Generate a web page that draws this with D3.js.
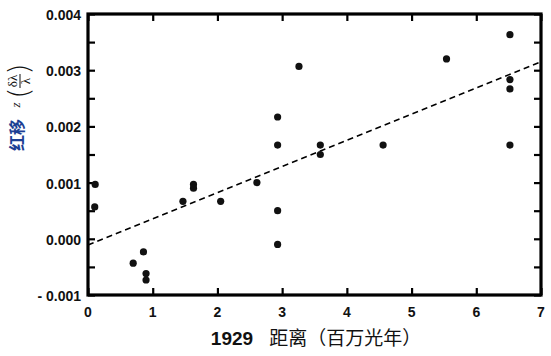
<!DOCTYPE html>
<html>
<head>
<meta charset="utf-8">
<script src="https://cdn.jsdelivr.net/npm/d3@7"></script>
<style>
  html, body { margin: 0; padding: 0; background: #fff; }
  svg { display: block; }
</style>
</head>
<body>
<svg id="chart" width="551" height="356"></svg>
<script>
// Hubble 1929 data: distance (million light years) and redshift z
const distances = [0.104, 0.111, 0.698, 0.857, 0.897, 0.897, 1.467, 1.630, 1.630, 2.050, 2.610, 2.930, 2.930, 2.930, 2.930, 3.260, 3.590, 3.590, 4.560, 5.540, 6.520, 6.520, 6.520, 6.520];
const redshifts = [0.000567, 0.000967, -0.000433, -0.000233, -0.000617, -0.000733, 0.000667, 0.000967, 0.000900, 0.000667, 0.001000, -0.000100, 0.002167, 0.000500, 0.001667, 0.003067, 0.001500, 0.001667, 0.001667, 0.003200, 0.001667, 0.002833, 0.002667, 0.003633];
// fitted trend line endpoints
const fitX = [0, 7];
const fitY = [-0.00011, 0.00315];
const xTicks = [0, 1, 2, 3, 4, 5, 6, 7];
const yTicks = [-0.001, 0, 0.001, 0.002, 0.003, 0.004];
const yMinorTicks = [-0.0005, 0.0005, 0.0015, 0.0025, 0.0035];
const yTickLabels = ["- 0.001", "0.000", "0.001", "0.002", "0.003", "0.004"];

const svg = d3.select("#chart");
const L = 88, R = 541, T = 14, B = 295;
const x = d3.scaleLinear().domain([0, 7]).range([L, R]);
const y = d3.scaleLinear().domain([-0.001, 0.004]).range([B, T]);

// ticks inward on all four sides
const tl = 7;
const allY = yTicks.concat(yMinorTicks);
const styleTicks = g => { g.select(".domain").remove(); g.selectAll("line").attr("stroke", "#000").attr("stroke-width", 2.2); };
svg.append("g").attr("transform", `translate(${L},0)`)
  .call(d3.axisRight(y).tickValues(allY).tickSize(tl).tickFormat("")).call(styleTicks);
svg.append("g").attr("transform", `translate(${R},0)`)
  .call(d3.axisLeft(y).tickValues(allY).tickSize(tl).tickFormat("")).call(styleTicks);
svg.append("g").attr("transform", `translate(0,${B})`)
  .call(d3.axisTop(x).tickValues(xTicks).tickSize(tl).tickFormat("")).call(styleTicks);
svg.append("g").attr("transform", `translate(0,${T})`)
  .call(d3.axisBottom(x).tickValues(xTicks).tickSize(tl).tickFormat("")).call(styleTicks);

// frame
svg.append("rect").attr("x", L).attr("y", T).attr("width", R - L).attr("height", B - T)
  .attr("fill", "none").attr("stroke", "#000").attr("stroke-width", 3.2);

// tick labels
const font = "'Liberation Sans', Arial, sans-serif";
svg.append("g").selectAll("text").data(xTicks).join("text")
  .attr("x", d => x(d)).attr("y", 317)
  .attr("text-anchor", "middle")
  .attr("font-family", font).attr("font-weight", "bold").attr("font-size", 14)
  .attr("fill", "#111").text(d => d);
svg.append("g").selectAll("text").data(yTicks).join("text")
  .attr("x", 81).attr("y", d => y(d) + 6)
  .attr("text-anchor", "end")
  .attr("font-family", font).attr("font-weight", "bold").attr("font-size", 14)
  .attr("fill", "#111").text((d, i) => yTickLabels[i]);

// trend line
svg.append("line")
  .attr("x1", x(fitX[0])).attr("y1", y(fitY[0]))
  .attr("x2", x(fitX[1])).attr("y2", y(fitY[1]))
  .attr("stroke", "#000").attr("stroke-width", 1.5)
  .attr("stroke-dasharray", "6,4");

// points
svg.append("g").selectAll("circle").data(distances).join("circle")
  .attr("cx", d => x(d)).attr("cy", (d, i) => y(redshifts[i]))
  .attr("r", 3.6).attr("fill", "#111");

// x-axis title
const xt = svg.append("text").attr("x", 316).attr("y", 345).attr("text-anchor", "middle")
  .attr("font-size", 19).attr("fill", "#111");
xt.append("tspan").attr("font-family", font).attr("font-weight", "bold").text("1929");
xt.append("tspan").attr("font-family", "'Noto Sans CJK SC', sans-serif").attr("dx", 16).text("距离（百万光年）");

// y-axis title (rotated)
svg.append("text")
  .attr("transform", "translate(16,135) rotate(-90)")
  .attr("text-anchor", "middle").attr("dominant-baseline", "central")
  .attr("font-family", "'Noto Sans CJK SC', sans-serif").attr("font-weight", "bold")
  .attr("font-size", 16).attr("fill", "#1c3f94").text("红移");

svg.append("text")
  .attr("transform", "translate(15.5,105) rotate(-90)")
  .attr("text-anchor", "middle").attr("dominant-baseline", "central")
  .attr("font-family", "'Liberation Serif', serif").attr("font-style", "italic")
  .attr("font-size", 13).attr("fill", "#111").text("z");

const fg = svg.append("g").attr("transform", "translate(18,81) rotate(-90)");
fg.append("text").attr("x", -12).attr("y", 1)
  .attr("text-anchor", "middle").attr("dominant-baseline", "central")
  .attr("font-family", "'DejaVu Sans', sans-serif").attr("font-weight", "200")
  .attr("font-size", 29).attr("fill", "#111").text("(");
fg.append("text").attr("x", 12).attr("y", 1)
  .attr("text-anchor", "middle").attr("dominant-baseline", "central")
  .attr("font-family", "'DejaVu Sans', sans-serif").attr("font-weight", "200")
  .attr("font-size", 29).attr("fill", "#111").text(")");
fg.append("line").attr("x1", -7).attr("x2", 7).attr("y1", 2).attr("y2", 2)
  .attr("stroke", "#111").attr("stroke-width", 1);
fg.append("text").attr("x", 0).attr("y", -1)
  .attr("text-anchor", "middle")
  .attr("font-family", "'Liberation Serif', serif")
  .attr("font-size", 13).attr("fill", "#111").text("δλ");
fg.append("text").attr("x", 0).attr("y", 12)
  .attr("text-anchor", "middle")
  .attr("font-family", "'Liberation Serif', serif")
  .attr("font-size", 13).attr("fill", "#111").text("λ");
</script>
</body>
</html>
